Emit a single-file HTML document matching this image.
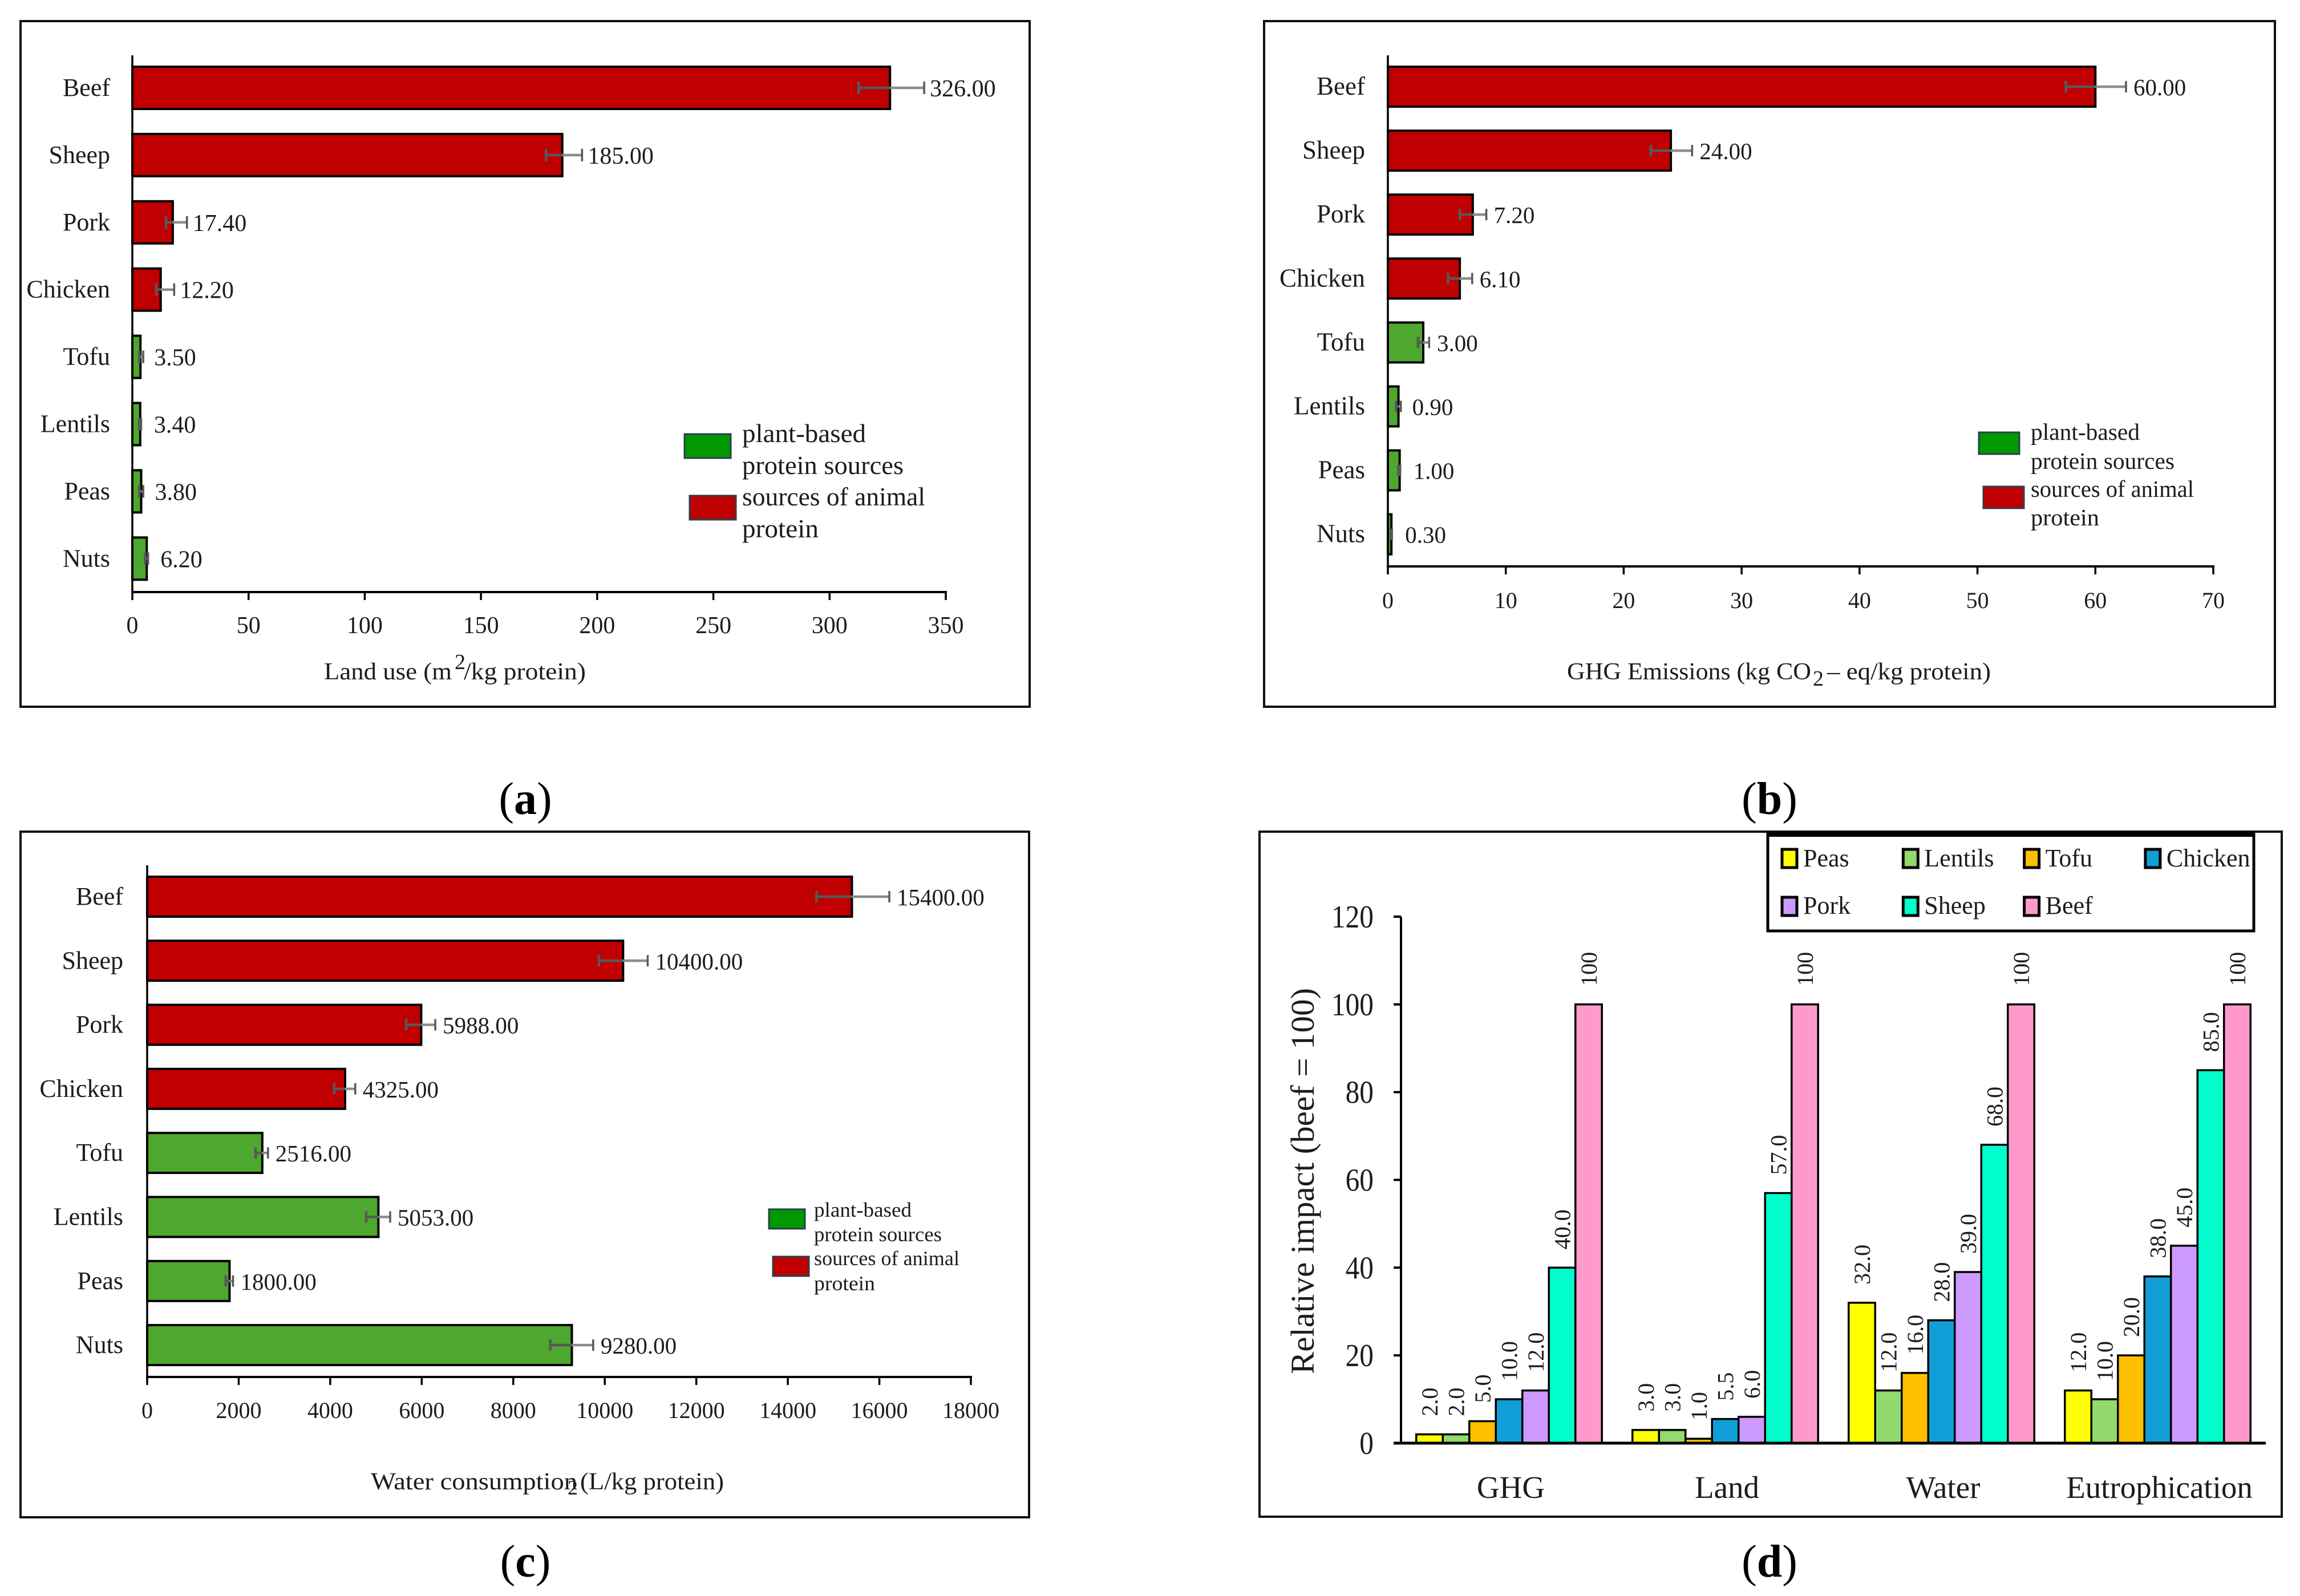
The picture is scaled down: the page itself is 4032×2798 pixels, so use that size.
<!DOCTYPE html>
<html lang="en">
<head>
<meta charset="utf-8">
<title>Environmental impact of protein sources</title>
<style>
html,body{margin:0;padding:0;background:#fff;width:4032px;height:2798px;overflow:hidden}
svg{display:block}
text{font-family:"Liberation Serif",serif;fill:#1c1c1c}
.frame{fill:#fff;stroke:#111;stroke-width:4}
.panel-label{font-size:80px;fill:#000}
.panel-label tspan{font-weight:bold}
</style>
</head>
<body>
<svg id="figure" xmlns="http://www.w3.org/2000/svg" width="4032" height="2798" viewBox="0 0 4032 2798">
  <rect x="0" y="0" width="4032" height="2798" fill="#fff"/>

  <!-- Panel a -->
  <g id="panel-a">
    <rect class="frame" x="36" y="37" width="1769" height="1202"/>
    <g id="marks-a"></g>
    <g font-size="42">
      <text x="568" y="1191" textLength="224" lengthAdjust="spacingAndGlyphs">Land use (m</text>
      <text x="797" y="1173" font-size="38">2</text>
      <text x="813" y="1191" textLength="214" lengthAdjust="spacingAndGlyphs">/kg protein)</text>
    </g>
    <g>
      <rect x="1200" y="761" width="81" height="42" fill="#009900" stroke="#2b3f4f" stroke-width="3"/>
      <rect x="1209" y="869" width="81" height="42" fill="#c00000" stroke="#2b3f4f" stroke-width="3"/>
      <g font-size="46">
        <text x="1301" y="775" textLength="217" lengthAdjust="spacingAndGlyphs">plant-based</text>
        <text x="1301" y="831" textLength="283" lengthAdjust="spacingAndGlyphs">protein sources</text>
        <text x="1301" y="886" textLength="321" lengthAdjust="spacingAndGlyphs">sources of animal</text>
        <text x="1301" y="942" textLength="134" lengthAdjust="spacingAndGlyphs">protein</text>
      </g>
    </g>
    <text class="panel-label" x="921" y="1427" text-anchor="middle">(<tspan>a</tspan>)</text>
  </g>

  <!-- Panel b -->
  <g id="panel-b">
    <rect class="frame" x="2216" y="37" width="1772" height="1202"/>
    <g id="marks-b"></g>
    <g font-size="42">
      <text x="2747" y="1191" textLength="428" lengthAdjust="spacingAndGlyphs">GHG Emissions (kg CO</text>
      <text x="3178" y="1202" font-size="38">2</text>
      <text x="3203" y="1191" textLength="287" lengthAdjust="spacingAndGlyphs">– eq/kg protein)</text>
    </g>
    <g>
      <rect x="3469" y="758" width="71" height="38" fill="#009900" stroke="#2b3f4f" stroke-width="3"/>
      <rect x="3477" y="853" width="71" height="38" fill="#c00000" stroke="#2b3f4f" stroke-width="3"/>
      <g font-size="41">
        <text x="3560" y="771" textLength="191" lengthAdjust="spacingAndGlyphs">plant-based</text>
        <text x="3560" y="822" textLength="252" lengthAdjust="spacingAndGlyphs">protein sources</text>
        <text x="3560" y="871" textLength="286" lengthAdjust="spacingAndGlyphs">sources of animal</text>
        <text x="3560" y="921" textLength="120" lengthAdjust="spacingAndGlyphs">protein</text>
      </g>
    </g>
    <text class="panel-label" x="3102" y="1427" text-anchor="middle">(<tspan>b</tspan>)</text>
  </g>

  <!-- Panel c -->
  <g id="panel-c">
    <rect class="frame" x="36" y="1458" width="1768" height="1202"/>
    <g id="marks-c"></g>
    <g font-size="42">
      <text x="650" y="2611" textLength="362" lengthAdjust="spacingAndGlyphs">Water consumption</text>
      <text x="995" y="2620" font-size="36">2</text>
      <text x="1017" y="2611" textLength="252" lengthAdjust="spacingAndGlyphs">(L/kg protein)</text>
    </g>
    <g>
      <rect x="1348" y="2120" width="63" height="34" fill="#009900" stroke="#2b3f4f" stroke-width="3"/>
      <rect x="1355" y="2203" width="63" height="34" fill="#c00000" stroke="#2b3f4f" stroke-width="3"/>
      <g font-size="36">
        <text x="1427" y="2133" textLength="171" lengthAdjust="spacingAndGlyphs">plant-based</text>
        <text x="1427" y="2176" textLength="224" lengthAdjust="spacingAndGlyphs">protein sources</text>
        <text x="1427" y="2218" textLength="255" lengthAdjust="spacingAndGlyphs">sources of animal</text>
        <text x="1427" y="2262" textLength="107" lengthAdjust="spacingAndGlyphs">protein</text>
      </g>
    </g>
    <text class="panel-label" x="921" y="2764" text-anchor="middle">(<tspan>c</tspan>)</text>
  </g>

  <!-- Panel d -->
  <g id="panel-d">
    <rect class="frame" x="2208" y="1458" width="1792" height="1201"/>
    <g id="marks-d"></g>
    <text transform="translate(2303,2409) rotate(-90)" x="0" y="0" font-size="58" textLength="677" lengthAdjust="spacingAndGlyphs">Relative impact (beef = 100)</text>
    <g>
      <rect x="3099" y="1462" width="852" height="170" fill="#fff" stroke="#000" stroke-width="5"/>
      <rect x="3097" y="1458" width="856" height="9" fill="#000"/>
    </g>
    <g id="legend-d"></g>
    <text class="panel-label" x="3102" y="2764" text-anchor="middle">(<tspan>d</tspan>)</text>
  </g>
</svg>

<script>
// Shared categories
const categories = ['Beef','Sheep','Pork','Chicken','Tofu','Lentils','Peas','Nuts'];
const proteinType = ['animal','animal','animal','animal','plant','plant','plant','plant'];

// Panel a: land use (m2/kg protein)
const landValues = [326,185,17.4,12.2,3.5,3.4,3.8,6.2];
const landErrLow = [312.5,178,14.5,10.3,3,3,3,5.5];
const landErrHigh = [340.7,193.5,23.5,18,4.7,3.8,4.7,6.8];
const landTicks = [0,50,100,150,200,250,300,350];

// Panel b: GHG emissions (kg CO2-eq/kg protein)
const ghgValues = [60,24,7.2,6.1,3,0.9,1,0.3];
const ghgErrLow = [57.5,22.3,6.1,5.1,2.56,0.7,0.9,0.25];
const ghgErrHigh = [62.6,25.8,8.35,7.15,3.5,1.1,1.05,0.35];
const ghgTicks = [0,10,20,30,40,50,60,70];

// Panel c: water consumption (L/kg protein)
const waterValues = [15400,10400,5988,4325,2516,5053,1800,9280];
const waterErrLow = [14628,9873,5660,4086,2369,4786,1717,8808];
const waterErrHigh = [16218,10938,6296,4547,2640,5310,1876,9746];
const waterTicks = [0,2000,4000,6000,8000,10000,12000,14000,16000,18000];

// Panel d: relative impact (beef = 100)
const impactGroups = ['GHG','Land','Water','Eutrophication'];
const impactSeriesNames = ['Peas','Lentils','Tofu','Chicken','Pork','Sheep','Beef'];
const peasImpact = [2,3,32,12];
const lentilsImpact = [2,3,12,10];
const tofuImpact = [5,1,16,20];
const chickenImpact = [10,5.5,28,38];
const porkImpact = [12,6,39,45];
const sheepImpact = [40,57,68,85];
const beefImpact = [100,100,100,100];
const impactTicks = [0,20,40,60,80,100,120];

const SVGNS = 'http://www.w3.org/2000/svg';
function make(tag, props, parent, txt){
  const n = document.createElementNS(SVGNS, tag);
  for (const k in props) n.setAttribute(k, props[k]);
  if (txt !== undefined) n.textContent = txt;
  parent.appendChild(n);
  return n;
}
function slug(s){ return String(s).toLowerCase().replace(/[^a-z0-9]+/g,'-'); }

function drawBarPanel(cfg){
  const root = document.getElementById(cfg.id);
  const x = v => cfg.x0 + (v - cfg.domainMin) / (cfg.domainMax - cfg.domainMin) * (cfg.x1 - cfg.x0);
  const y = i => cfg.firstCenter + i * cfg.step;
  const xmax = cfg.ticks[cfg.ticks.length-1];
  categories.forEach((cat,i)=>{
    const bar = make('rect',{x:x(0),y:y(i)-cfg.barH/2,width:x(cfg.values[i])-x(0),height:cfg.barH,
      fill:proteinType[i]==='animal'?'#c00000':'#4ea72e',stroke:'#000','stroke-width':4},root);
    
    

    const errLow = make('line',{x1:x(cfg.errLow[i]),x2:x(cfg.values[i]),y1:y(i),y2:y(i),stroke:'#585858','stroke-width':4.5},root);
    
    
    const errHigh = make('line',{x1:x(cfg.values[i]),x2:x(cfg.errHigh[i]),y1:y(i),y2:y(i),stroke:'#8c8c8c','stroke-width':4.5},root);
    
    
    const capLow = make('line',{x1:x(cfg.errLow[i]),x2:x(cfg.errLow[i]),y1:y(i)-cfg.capH,y2:y(i)+cfg.capH,stroke:'#585858','stroke-width':4.5},root);
    
    
    const capHigh = make('line',{x1:x(cfg.errHigh[i]),x2:x(cfg.errHigh[i]),y1:y(i)-cfg.capH,y2:y(i)+cfg.capH,stroke:'#585858','stroke-width':3.5},root);
    
    

    const labelX = Math.max(x(cfg.errHigh[i]) + cfg.labelGap, x(cfg.values[i]) + cfg.barClearance);
    const val = make('text',{x:labelX,y:y(i)+15,'font-size':cfg.valueFont},root,cfg.values[i].toFixed(2));
    
    

    const lab = make('text',{x:cfg.catRight,y:y(i)+14,'font-size':cfg.catFont,'text-anchor':'end'},root,cat);
    
    
  });
  const yAxis = make('line',{x1:x(0),x2:x(0),y1:cfg.axisTop,y2:cfg.axisBottom,stroke:'#000','stroke-width':3.5},root);
  
  
  const xAxis = make('line',{x1:x(0)-2,x2:x(xmax)+2,y1:cfg.axisBottom,y2:cfg.axisBottom,stroke:'#000','stroke-width':4},root);
  
  
  cfg.ticks.forEach(t=>{
    const tick = make('line',{x1:x(t),x2:x(t),y1:cfg.axisBottom,y2:cfg.axisBottom+14,stroke:'#000','stroke-width':3.5},root);
    
    
    const tl = make('text',{x:x(t),y:cfg.tickBaseline,'font-size':cfg.tickFont,'text-anchor':'middle'},root,String(t));
    
    
  });
}

drawBarPanel({id:'marks-a',values:landValues,errLow:landErrLow,errHigh:landErrHigh,ticks:landTicks,
  domainMin:0,domainMax:350,x0:232,x1:1658,firstCenter:154,step:117.9,barH:74,capH:11,
  axisTop:97,axisBottom:1038,tickBaseline:1110,tickFont:42,valueFont:42,catFont:44,catRight:193,labelGap:10,barClearance:24});
drawBarPanel({id:'marks-b',values:ghgValues,errLow:ghgErrLow,errHigh:ghgErrHigh,ticks:ghgTicks,
  domainMin:0,domainMax:70,x0:2433,x1:3880,firstCenter:152,step:112.1,barH:70,capH:10,
  axisTop:97,axisBottom:993,tickBaseline:1066,tickFont:40,valueFont:41,catFont:45,catRight:2393,labelGap:13,barClearance:24});
drawBarPanel({id:'marks-c',values:waterValues,errLow:waterErrLow,errHigh:waterErrHigh,ticks:waterTicks,
  domainMin:0,domainMax:18000,x0:258,x1:1702,firstCenter:1572,step:112.3,barH:70,capH:10,
  axisTop:1517,axisBottom:2414,tickBaseline:2486,tickFont:40,valueFont:41,catFont:44,catRight:216,labelGap:13,barClearance:0});

// Panel d
(function(){
  const root = document.getElementById('marks-d');
  const seriesValues = [peasImpact,lentilsImpact,tofuImpact,chickenImpact,porkImpact,sheepImpact,beefImpact];
  const seriesColors = ['#ffff00','#92d96e','#ffc000','#0f9ed5','#cc99ff','#00ffcc','#ff99cc'];
  const axisX = 2456, axisEnd = 3972, y0 = 2530, yTop = 1607;
  const band = (axisEnd - axisX) / impactGroups.length;
  const barW = 46.5;
  const y = v => y0 - v / 120 * (y0 - yTop);
  const groupCenter = g => axisX + band * (g + 0.5);
  impactGroups.forEach((grp,g)=>{
    const cx = groupCenter(g);
    seriesValues.forEach((vals,s)=>{
      const bx = cx + (s - 3.5) * barW;
      const bar = make('rect',{x:bx,y:y(vals[g]),width:barW,height:y0-y(vals[g]),fill:seriesColors[s],stroke:'#000','stroke-width':3.5},root);
      
      
      const lx = bx + barW/2 + 14, ly = y(vals[g]) - 32;
      const lbl = make('text',{transform:'translate('+lx+','+ly+') rotate(-90)','font-size':40,fill:'#333'},root,
        vals[g]===100 ? '100' : vals[g].toFixed(1));
      
      
    });
    const cl = make('text',{x:cx+3,y:2626,'font-size':55,'text-anchor':'middle'},root,grp);
    
    
  });
  const yAxis = make('line',{x1:axisX,x2:axisX,y1:yTop,y2:y0,stroke:'#000','stroke-width':4},root);
  
  
  const xAxis = make('line',{x1:axisX-13,x2:axisEnd,y1:y0,y2:y0,stroke:'#000','stroke-width':5},root);
  
  
  impactTicks.forEach(t=>{
    const tick = make('line',{x1:axisX-13,x2:axisX,y1:y(t),y2:y(t),stroke:'#000','stroke-width':4},root);
    
    
    const w = String(t).length * 24.7;
    const tl = make('text',{x:2408-w,y:y(t)+19,'font-size':56,textLength:w,lengthAdjust:'spacingAndGlyphs'},root,String(t));
    
    
  });
  // legend entries: four columns, two rows
  const legend = document.getElementById('legend-d');
  impactSeriesNames.forEach((name,s)=>{
    const col = s % 4, row = Math.floor(s / 4);
    const sx = 3124 + col * 212.3, sy = row === 0 ? 1489 : 1573;
    const sw = make('rect',{x:sx,y:sy,width:26,height:32,fill:seriesColors[s],stroke:'#000','stroke-width':5},legend);
    
    
    const lt = make('text',{x:sx+37,y:row===0?1519:1602,'font-size':44},legend,name);
    
    
  });
})();
</script>
</body>
</html>
